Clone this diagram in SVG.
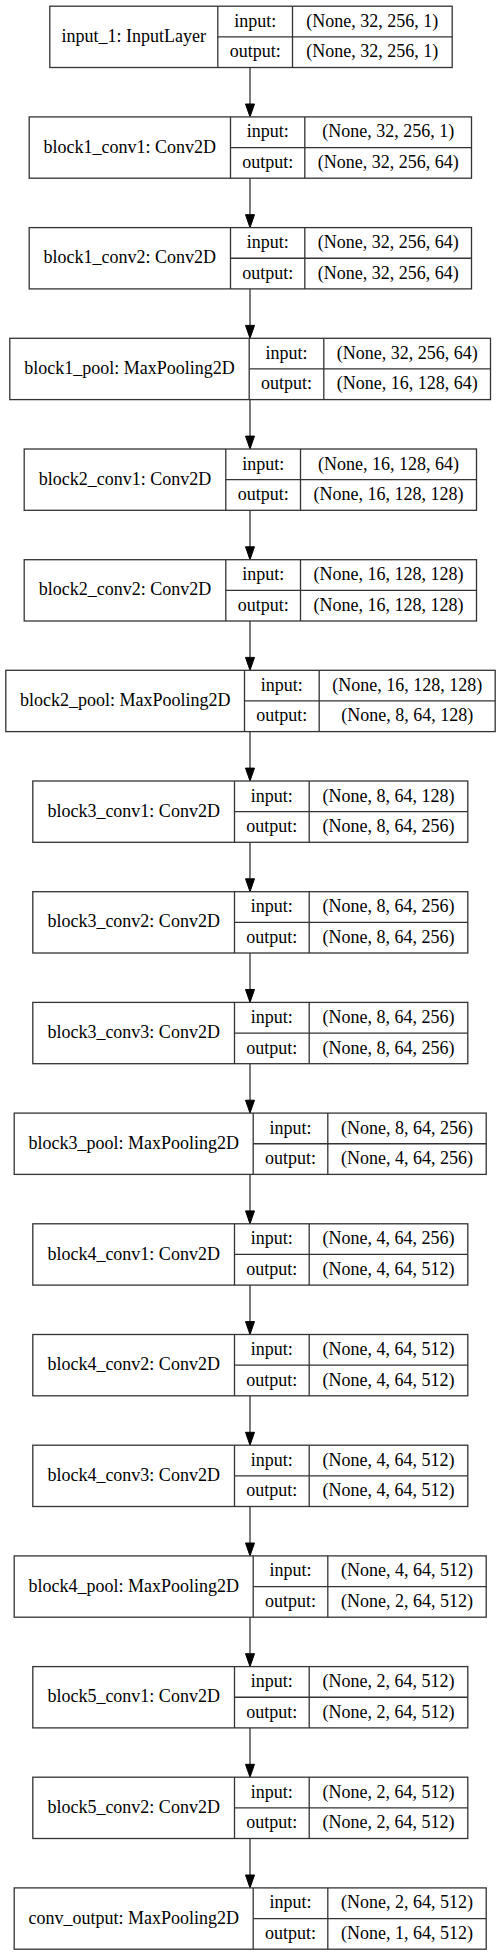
<svg xmlns="http://www.w3.org/2000/svg" width="500" height="1955" viewBox="0 0 500 1955">
<style>
.b{fill:#fff;stroke:#333;stroke-width:1.3}
.l{stroke:#333;stroke-width:1.3;fill:none}
text{font-family:"Liberation Serif","Times New Roman",serif;font-size:18px;fill:#000;text-anchor:middle}
.e{stroke:#333;stroke-width:1.3;fill:none}
.h{fill:#000;stroke:#000;stroke-width:1}
</style>
<rect width="500" height="1955" fill="#fff"/>
<g id="connectors">
<line class="e" x1="250" y1="67.5" x2="250" y2="104"/><polygon class="h" points="245.5,104 254.5,104 250,116.9"/>
<line class="e" x1="250" y1="178.2" x2="250" y2="214.7"/><polygon class="h" points="245.5,214.7 254.5,214.7 250,227.6"/>
<line class="e" x1="250" y1="288.9" x2="250" y2="325.4"/><polygon class="h" points="245.5,325.4 254.5,325.4 250,338.3"/>
<line class="e" x1="250" y1="399.6" x2="250" y2="436.1"/><polygon class="h" points="245.5,436.1 254.5,436.1 250,449"/>
<line class="e" x1="250" y1="510.3" x2="250" y2="546.8"/><polygon class="h" points="245.5,546.8 254.5,546.8 250,559.7"/>
<line class="e" x1="250" y1="621" x2="250" y2="657.4"/><polygon class="h" points="245.5,657.4 254.5,657.4 250,670.3"/>
<line class="e" x1="250" y1="731.6" x2="250" y2="768.1"/><polygon class="h" points="245.5,768.1 254.5,768.1 250,781"/>
<line class="e" x1="250" y1="842.3" x2="250" y2="878.8"/><polygon class="h" points="245.5,878.8 254.5,878.8 250,891.7"/>
<line class="e" x1="250" y1="953" x2="250" y2="989.5"/><polygon class="h" points="245.5,989.5 254.5,989.5 250,1002.4"/>
<line class="e" x1="250" y1="1063.7" x2="250" y2="1100.2"/><polygon class="h" points="245.5,1100.2 254.5,1100.2 250,1113.1"/>
<line class="e" x1="250" y1="1174.4" x2="250" y2="1210.9"/><polygon class="h" points="245.5,1210.9 254.5,1210.9 250,1223.8"/>
<line class="e" x1="250" y1="1285.1" x2="250" y2="1321.6"/><polygon class="h" points="245.5,1321.6 254.5,1321.6 250,1334.5"/>
<line class="e" x1="250" y1="1395.8" x2="250" y2="1432.3"/><polygon class="h" points="245.5,1432.3 254.5,1432.3 250,1445.2"/>
<line class="e" x1="250" y1="1506.5" x2="250" y2="1543"/><polygon class="h" points="245.5,1543 254.5,1543 250,1555.9"/>
<line class="e" x1="250" y1="1617.2" x2="250" y2="1653.7"/><polygon class="h" points="245.5,1653.7 254.5,1653.7 250,1666.6"/>
<line class="e" x1="250" y1="1727.9" x2="250" y2="1764.3"/><polygon class="h" points="245.5,1764.3 254.5,1764.3 250,1777.2"/>
<line class="e" x1="250" y1="1838.5" x2="250" y2="1875"/><polygon class="h" points="245.5,1875 254.5,1875 250,1887.9"/>
</g>

<g id="input_1" transform="translate(0,6.2)">
<rect class="b" x="49.8" y="0" width="402.4" height="61.3"/>
<line class="l" x1="217.8" y1="0" x2="217.8" y2="61.3"/><line class="l" x1="292.5" y1="0" x2="292.5" y2="61.3"/><line class="l" x1="217.8" y1="30.65" x2="452.2" y2="30.65"/>
<text x="133.8" y="35.8">input_1: InputLayer</text><text x="255.15" y="20.5">input:</text><text x="255.15" y="51.2">output:</text>
<text x="372.35" y="20.5">(None, 32, 256, 1)</text><text x="372.35" y="51.2">(None, 32, 256, 1)</text>
</g>

<g id="block1_conv1" transform="translate(0,116.9)">
<rect class="b" x="29.2" y="0" width="442.3" height="61.3"/>
<line class="l" x1="230.5" y1="0" x2="230.5" y2="61.3"/><line class="l" x1="304.8" y1="0" x2="304.8" y2="61.3"/><line class="l" x1="230.5" y1="30.65" x2="471.5" y2="30.65"/>
<text x="129.85" y="35.8">block1_conv1: Conv2D</text><text x="267.65" y="20.5">input:</text><text x="267.65" y="51.2">output:</text>
<text x="388.15" y="20.5">(None, 32, 256, 1)</text><text x="388.15" y="51.2">(None, 32, 256, 64)</text>
</g>

<g id="block1_conv2" transform="translate(0,227.6)">
<rect class="b" x="29.2" y="0" width="442.3" height="61.3"/>
<line class="l" x1="230.5" y1="0" x2="230.5" y2="61.3"/><line class="l" x1="304.8" y1="0" x2="304.8" y2="61.3"/><line class="l" x1="230.5" y1="30.65" x2="471.5" y2="30.65"/>
<text x="129.85" y="35.8">block1_conv2: Conv2D</text><text x="267.65" y="20.5">input:</text><text x="267.65" y="51.2">output:</text>
<text x="388.15" y="20.5">(None, 32, 256, 64)</text><text x="388.15" y="51.2">(None, 32, 256, 64)</text>
</g>

<g id="block1_pool" transform="translate(0,338.3)">
<rect class="b" x="9.8" y="0" width="480.7" height="61.3"/>
<line class="l" x1="249.2" y1="0" x2="249.2" y2="61.3"/><line class="l" x1="323.8" y1="0" x2="323.8" y2="61.3"/><line class="l" x1="249.2" y1="30.65" x2="490.5" y2="30.65"/>
<text x="129.5" y="35.8">block1_pool: MaxPooling2D</text><text x="286.5" y="20.5">input:</text><text x="286.5" y="51.2">output:</text>
<text x="407.15" y="20.5">(None, 32, 256, 64)</text><text x="407.15" y="51.2">(None, 16, 128, 64)</text>
</g>

<g id="block2_conv1" transform="translate(0,449)">
<rect class="b" x="24.2" y="0" width="452.3" height="61.3"/>
<line class="l" x1="225.8" y1="0" x2="225.8" y2="61.3"/><line class="l" x1="300.5" y1="0" x2="300.5" y2="61.3"/><line class="l" x1="225.8" y1="30.65" x2="476.5" y2="30.65"/>
<text x="125" y="35.8">block2_conv1: Conv2D</text><text x="263.15" y="20.5">input:</text><text x="263.15" y="51.2">output:</text>
<text x="388.5" y="20.5">(None, 16, 128, 64)</text><text x="388.5" y="51.2">(None, 16, 128, 128)</text>
</g>

<g id="block2_conv2" transform="translate(0,559.7)">
<rect class="b" x="24.2" y="0" width="452.3" height="61.3"/>
<line class="l" x1="225.8" y1="0" x2="225.8" y2="61.3"/><line class="l" x1="300.5" y1="0" x2="300.5" y2="61.3"/><line class="l" x1="225.8" y1="30.65" x2="476.5" y2="30.65"/>
<text x="125" y="35.8">block2_conv2: Conv2D</text><text x="263.15" y="20.5">input:</text><text x="263.15" y="51.2">output:</text>
<text x="388.5" y="20.5">(None, 16, 128, 128)</text><text x="388.5" y="51.2">(None, 16, 128, 128)</text>
</g>

<g id="block2_pool" transform="translate(0,670.3)">
<rect class="b" x="5.8" y="0" width="489.4" height="61.3"/>
<line class="l" x1="244.5" y1="0" x2="244.5" y2="61.3"/><line class="l" x1="319.2" y1="0" x2="319.2" y2="61.3"/><line class="l" x1="244.5" y1="30.65" x2="495.2" y2="30.65"/>
<text x="125.15" y="35.8">block2_pool: MaxPooling2D</text><text x="281.85" y="20.5">input:</text><text x="281.85" y="51.2">output:</text>
<text x="407.2" y="20.5">(None, 16, 128, 128)</text><text x="407.2" y="51.2">(None, 8, 64, 128)</text>
</g>

<g id="block3_conv1" transform="translate(0,781)">
<rect class="b" x="32.8" y="0" width="435" height="61.3"/>
<line class="l" x1="234.5" y1="0" x2="234.5" y2="61.3"/><line class="l" x1="309.2" y1="0" x2="309.2" y2="61.3"/><line class="l" x1="234.5" y1="30.65" x2="467.8" y2="30.65"/>
<text x="133.65" y="35.8">block3_conv1: Conv2D</text><text x="271.85" y="20.5">input:</text><text x="271.85" y="51.2">output:</text>
<text x="388.5" y="20.5">(None, 8, 64, 128)</text><text x="388.5" y="51.2">(None, 8, 64, 256)</text>
</g>

<g id="block3_conv2" transform="translate(0,891.7)">
<rect class="b" x="32.8" y="0" width="435" height="61.3"/>
<line class="l" x1="234.5" y1="0" x2="234.5" y2="61.3"/><line class="l" x1="309.2" y1="0" x2="309.2" y2="61.3"/><line class="l" x1="234.5" y1="30.65" x2="467.8" y2="30.65"/>
<text x="133.65" y="35.8">block3_conv2: Conv2D</text><text x="271.85" y="20.5">input:</text><text x="271.85" y="51.2">output:</text>
<text x="388.5" y="20.5">(None, 8, 64, 256)</text><text x="388.5" y="51.2">(None, 8, 64, 256)</text>
</g>

<g id="block3_conv3" transform="translate(0,1002.4)">
<rect class="b" x="32.8" y="0" width="435" height="61.3"/>
<line class="l" x1="234.5" y1="0" x2="234.5" y2="61.3"/><line class="l" x1="309.2" y1="0" x2="309.2" y2="61.3"/><line class="l" x1="234.5" y1="30.65" x2="467.8" y2="30.65"/>
<text x="133.65" y="35.8">block3_conv3: Conv2D</text><text x="271.85" y="20.5">input:</text><text x="271.85" y="51.2">output:</text>
<text x="388.5" y="20.5">(None, 8, 64, 256)</text><text x="388.5" y="51.2">(None, 8, 64, 256)</text>
</g>

<g id="block3_pool" transform="translate(0,1113.1)">
<rect class="b" x="14.2" y="0" width="472" height="61.3"/>
<line class="l" x1="253.2" y1="0" x2="253.2" y2="61.3"/><line class="l" x1="327.8" y1="0" x2="327.8" y2="61.3"/><line class="l" x1="253.2" y1="30.65" x2="486.2" y2="30.65"/>
<text x="133.7" y="35.8">block3_pool: MaxPooling2D</text><text x="290.5" y="20.5">input:</text><text x="290.5" y="51.2">output:</text>
<text x="407" y="20.5">(None, 8, 64, 256)</text><text x="407" y="51.2">(None, 4, 64, 256)</text>
</g>

<g id="block4_conv1" transform="translate(0,1223.8)">
<rect class="b" x="32.8" y="0" width="435" height="61.3"/>
<line class="l" x1="234.5" y1="0" x2="234.5" y2="61.3"/><line class="l" x1="309.2" y1="0" x2="309.2" y2="61.3"/><line class="l" x1="234.5" y1="30.65" x2="467.8" y2="30.65"/>
<text x="133.65" y="35.8">block4_conv1: Conv2D</text><text x="271.85" y="20.5">input:</text><text x="271.85" y="51.2">output:</text>
<text x="388.5" y="20.5">(None, 4, 64, 256)</text><text x="388.5" y="51.2">(None, 4, 64, 512)</text>
</g>

<g id="block4_conv2" transform="translate(0,1334.5)">
<rect class="b" x="32.8" y="0" width="435" height="61.3"/>
<line class="l" x1="234.5" y1="0" x2="234.5" y2="61.3"/><line class="l" x1="309.2" y1="0" x2="309.2" y2="61.3"/><line class="l" x1="234.5" y1="30.65" x2="467.8" y2="30.65"/>
<text x="133.65" y="35.8">block4_conv2: Conv2D</text><text x="271.85" y="20.5">input:</text><text x="271.85" y="51.2">output:</text>
<text x="388.5" y="20.5">(None, 4, 64, 512)</text><text x="388.5" y="51.2">(None, 4, 64, 512)</text>
</g>

<g id="block4_conv3" transform="translate(0,1445.2)">
<rect class="b" x="32.8" y="0" width="435" height="61.3"/>
<line class="l" x1="234.5" y1="0" x2="234.5" y2="61.3"/><line class="l" x1="309.2" y1="0" x2="309.2" y2="61.3"/><line class="l" x1="234.5" y1="30.65" x2="467.8" y2="30.65"/>
<text x="133.65" y="35.8">block4_conv3: Conv2D</text><text x="271.85" y="20.5">input:</text><text x="271.85" y="51.2">output:</text>
<text x="388.5" y="20.5">(None, 4, 64, 512)</text><text x="388.5" y="51.2">(None, 4, 64, 512)</text>
</g>

<g id="block4_pool" transform="translate(0,1555.9)">
<rect class="b" x="14.2" y="0" width="472" height="61.3"/>
<line class="l" x1="253.2" y1="0" x2="253.2" y2="61.3"/><line class="l" x1="327.8" y1="0" x2="327.8" y2="61.3"/><line class="l" x1="253.2" y1="30.65" x2="486.2" y2="30.65"/>
<text x="133.7" y="35.8">block4_pool: MaxPooling2D</text><text x="290.5" y="20.5">input:</text><text x="290.5" y="51.2">output:</text>
<text x="407" y="20.5">(None, 4, 64, 512)</text><text x="407" y="51.2">(None, 2, 64, 512)</text>
</g>

<g id="block5_conv1" transform="translate(0,1666.6)">
<rect class="b" x="32.8" y="0" width="435" height="61.3"/>
<line class="l" x1="234.5" y1="0" x2="234.5" y2="61.3"/><line class="l" x1="309.2" y1="0" x2="309.2" y2="61.3"/><line class="l" x1="234.5" y1="30.65" x2="467.8" y2="30.65"/>
<text x="133.65" y="35.8">block5_conv1: Conv2D</text><text x="271.85" y="20.5">input:</text><text x="271.85" y="51.2">output:</text>
<text x="388.5" y="20.5">(None, 2, 64, 512)</text><text x="388.5" y="51.2">(None, 2, 64, 512)</text>
</g>

<g id="block5_conv2" transform="translate(0,1777.2)">
<rect class="b" x="32.8" y="0" width="435" height="61.3"/>
<line class="l" x1="234.5" y1="0" x2="234.5" y2="61.3"/><line class="l" x1="309.2" y1="0" x2="309.2" y2="61.3"/><line class="l" x1="234.5" y1="30.65" x2="467.8" y2="30.65"/>
<text x="133.65" y="35.8">block5_conv2: Conv2D</text><text x="271.85" y="20.5">input:</text><text x="271.85" y="51.2">output:</text>
<text x="388.5" y="20.5">(None, 2, 64, 512)</text><text x="388.5" y="51.2">(None, 2, 64, 512)</text>
</g>

<g id="conv_output" transform="translate(0,1887.9)">
<rect class="b" x="14.2" y="0" width="472" height="61.3"/>
<line class="l" x1="253.2" y1="0" x2="253.2" y2="61.3"/><line class="l" x1="327.8" y1="0" x2="327.8" y2="61.3"/><line class="l" x1="253.2" y1="30.65" x2="486.2" y2="30.65"/>
<text x="133.7" y="35.8">conv_output: MaxPooling2D</text><text x="290.5" y="20.5">input:</text><text x="290.5" y="51.2">output:</text>
<text x="407" y="20.5">(None, 2, 64, 512)</text><text x="407" y="51.2">(None, 1, 64, 512)</text>
</g>
</svg>
